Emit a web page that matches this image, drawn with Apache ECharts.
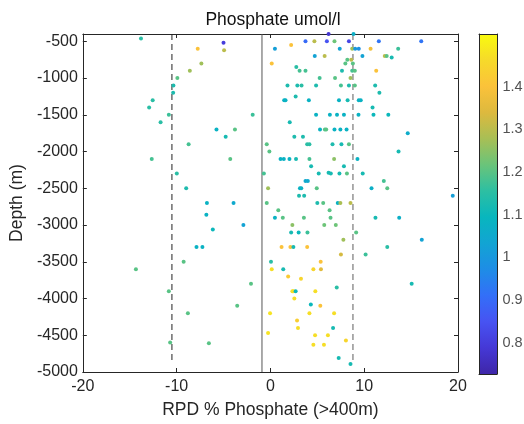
<!DOCTYPE html>
<html>
<head>
<meta charset="utf-8">
<script src="https://cdn.jsdelivr.net/npm/echarts@6/dist/echarts.min.js"></script>
<style>html,body{margin:0;padding:0;background:#fff}#c{width:524px;height:424px}</style>
</head>
<body>
<div id="c"></div>
<script>
// RPD (%) values
const rpd = [
-13.8,-5.0,-7.75,-4.94,-7.36,-8.59,-9.92,-10.34,-10.37,-12.55,-12.93,-10.83,-1.89,
6.2,8.86,3.74,4.69,6.02,6.83,8.37,11.56,16.08,2.21,0.48,7.39,8.72,9.04,9.42,10.68,13.62,
4.73,5.78,9.81,12.19,12.4,12.93,8.2,8.62,0.14,7.99,8.79,2.76,3.11,3.74,7.63,8.72,9.0,11.28,
5.25,6.89,8.54,1.82,2.87,3.32,4.87,7.52,8.37,9.0,11.17,11.62,2.69,1.47,1.61,4.1,7.31,8.23,9.42,9.63,10.89,
4.87,6.34,7.1,7.84,9.39,10.99,12.57,
-11.71,2.06,-5.75,-3.78,5.29,5.81,5.95,6.83,7.46,8.12,14.64,-4.77,2.55,3.47,
-8.72,-0.39,3.92,4.16,6.62,7.57,8.37,-0.11,13.66,
-12.65,-4.28,1.08,1.43,2.03,2.73,4.16,6.79,9.28,4.34,7.84,
-9.98,-0.7,5.15,6.2,6.44,7.36,8.16,9.84,3.74,3.99,12.09,
-8.98,-0.25,3.15,3.29,4.94,10.78,12.46,19.44,3.05,3.6,
-6.77,-3.93,-0.39,5.0,5.63,7.18,7.46,8.54,0.84,6.31,-6.83,
0.48,1.32,3.57,6.41,11.2,13.73,
-6.14,-2.88,2.34,5.74,6.97,2.21,3.01,3.95,9.14,7.78,16.14,
-7.88,-7.25,1.19,2.13,2.45,3.92,12.46,7.52,10.15,-9.25,0.06,5.36,
-14.34,0.14,1.37,4.58,5.39,1.89,3.26,-2.07,15.06,7.07,
-10.83,2.34,2.45,2.69,4.79,2.55,-3.54,5.32,4.31,
-8.8,-0.04,4.16,6.79,2.84,2.94,6.68,-0.25,4.76,6.13,8.05,
-10.69,-6.56,4.58,5.71,7.28,8.54
];
// Depth (m)
const depth = [
-460,-520,-600,-620,-800,-900,-1000,-1100,-1200,-1300,-1400,-1500,-1500,
-400,-400,-500,-500,-500,-500,-500,-500,-500,-550,-600,-600,-600,-600,-600,-600,-600,
-700,-700,-700,-700,-700,-720,-750,-750,-800,-800,-800,-850,-900,-900,-900,-900,-900,-900,
-1000,-1000,-1000,-1100,-1100,-1100,-1100,-1100,-1100,-1100,-1100,-1200,-1250,-1300,-1300,-1300,-1300,-1300,-1300,-1300,-1400,
-1500,-1500,-1500,-1500,-1500,-1500,-1500,
-1600,-1600,-1700,-1700,-1700,-1700,-1700,-1700,-1700,-1700,-1750,-1800,-1800,-1800,
-1900,-1900,-1900,-1900,-1900,-1900,-1900,-2000,-2000,
-2100,-2100,-2100,-2100,-2100,-2100,-2100,-2100,-2100,-2200,-2200,
-2300,-2300,-2300,-2290,-2300,-2300,-2300,-2300,-2400,-2400,-2400,
-2500,-2500,-2500,-2500,-2500,-2500,-2500,-2600,-2600,-2600,
-2700,-2700,-2700,-2700,-2700,-2700,-2700,-2700,-2800,-2800,-2860,
-2900,-2900,-2900,-2900,-2900,-2900,
-3060,-3000,-3000,-3000,-3000,-3100,-3100,-3100,-3100,-3200,-3200,
-3300,-3300,-3300,-3300,-3300,-3300,-3300,-3400,-3400,-3500,-3500,-3500,
-3600,-3600,-3600,-3600,-3600,-3700,-3730,-3800,-3800,-3850,
-3900,-3900,-3900,-3900,-3900,-4000,-4100,-4100,-4080,
-4200,-4200,-4200,-4200,-4300,-4400,-4400,-4470,-4500,-4500,-4570,
-4600,-4610,-4630,-4630,-4810,-4890
];
// Phosphate (umol/l)
const phosphate = [
1.15,0.80,1.40,1.30,1.27,1.27,1.20,1.13,1.13,1.15,1.15,1.17,1.17,
0.78,1.07,0.90,1.30,0.85,1.22,0.82,0.92,0.92,1.40,1.02,1.03,1.27,1.00,0.98,1.38,1.17,
1.03,1.30,1.03,1.30,1.20,1.12,1.20,1.30,1.40,1.20,1.20,1.15,1.18,1.18,1.13,1.18,1.20,1.40,
1.18,1.20,1.27,1.13,1.13,1.15,1.13,1.18,1.13,1.20,1.13,1.13,1.13,1.08,1.08,1.08,1.08,1.12,1.08,1.08,1.12,
1.08,1.08,1.08,1.08,1.08,1.10,1.10,
1.15,1.12,1.08,1.20,1.08,1.20,1.20,1.08,1.08,1.08,1.06,1.12,1.13,1.13,
1.18,1.20,1.15,1.15,1.13,1.12,1.20,1.20,1.12,
1.18,1.20,1.08,1.08,1.08,1.12,1.18,1.25,1.08,1.12,1.12,
1.15,1.18,1.12,1.12,1.12,1.12,1.20,1.12,1.05,1.05,1.18,
1.13,1.27,1.08,1.08,1.20,1.07,1.20,1.02,1.13,1.13,
1.08,1.05,1.20,1.13,1.20,1.08,1.28,1.30,1.20,1.20,1.08,
1.08,1.20,1.20,1.20,1.12,1.07,
1.10,1.03,1.25,1.22,1.22,1.12,1.10,1.17,1.20,1.27,1.03,
1.08,1.08,1.40,1.40,1.12,1.40,1.15,1.33,1.17,1.20,1.15,1.40,
1.20,1.47,1.12,1.45,1.35,1.42,1.45,1.20,1.12,1.15,
1.20,1.47,1.47,1.10,1.47,1.47,1.20,1.40,1.10,
1.20,1.48,1.47,1.47,1.43,1.47,1.12,1.48,1.47,1.47,1.45,
1.20,1.20,1.47,1.47,1.12,1.12
];
// reference lines (mean and +/- 2 sd of RPD)
const meanRPD = -0.9;
const lowRPD = -10.5;
const highRPD = 8.8;
const xTicks = [-20, -10, 0, 10, 20];
const yTicks = [-5000, -4500, -4000, -3500, -3000, -2500, -2000, -1500, -1000, -500];
const cbTicks = [0.8, 0.9, 1.0, 1.1, 1.2, 1.3, 1.4];
const cMin = 0.727, cMax = 1.523;
const yMin = -5000, yMax = -400;

const parula = ['#3E26A8','#4538D6','#4753F2','#336FF8','#1E8DE6','#12A4D3','#08B6BE','#2DBFA2','#6AC47A','#A8BF55','#DDB93E','#FBC23A','#F6DA2A','#F9FB0E'];

const pts = rpd.map((x, i) => [x, depth[i], phosphate[i]]);
const depthTop = Math.max(...depth), depthBot = Math.min(...depth);
const cbLabelPts = cbTicks.map(v => ['c', v]);

const txt = '#262626';
const font = 'Liberation Sans, Arial, Helvetica, sans-serif';

const chart = echarts.init(document.getElementById('c'));
const stops = parula.map((c, i) => ({offset: i / (parula.length - 1), color: c}));

chart.setOption({
  animation: false,
  backgroundColor: '#fff',
  title: {
    text: 'Phosphate umol/l', left: 268, top: 6, textAlign: 'center',
    textStyle: {fontFamily: font, fontSize: 17.5, fontWeight: 'normal', color: '#111'}
  },
  grid: [
    {left: 77, right: 66, top: 34, bottom: 50},
    {left: 479, width: 18, top: 34, bottom: 50}
  ],
  xAxis: [
    {gridIndex: 0, type: 'value', min: -20, max: 20, interval: 10, position: 'bottom',
     name: 'RPD % Phosphate (>400m)', nameLocation: 'middle', nameGap: 29,
     nameTextStyle: {fontSize: 17.5, color: txt, fontFamily: font},
     axisLine: {onZero: false, lineStyle: {color: txt}},
     axisTick: {inside: true, length: 4, lineStyle: {color: txt}},
     axisLabel: {fontSize: 16, color: txt, margin: 7, fontFamily: font},
     splitLine: {show: false}},
    {gridIndex: 0, type: 'value', min: -20, max: 20, interval: 10, position: 'top',
     axisLine: {onZero: false, lineStyle: {color: txt}},
     axisTick: {inside: true, length: 4, lineStyle: {color: txt}},
     axisLabel: {show: false}, splitLine: {show: false}},
    {gridIndex: 1, type: 'category', data: ['c'], position: 'bottom', z: 5,
     axisLine: {lineStyle: {color: txt}}, axisTick: {show: false}, axisLabel: {show: false}},
    {gridIndex: 1, type: 'category', data: ['c'], position: 'top', z: 5,
     axisLine: {lineStyle: {color: txt}}, axisTick: {show: false}, axisLabel: {show: false}}
  ],
  yAxis: [
    {gridIndex: 0, type: 'value', min: yMin, max: yMax, position: 'left',
     name: 'Depth (m)', nameLocation: 'middle', nameGap: 48, nameRotate: 90,
     nameTextStyle: {fontSize: 17.5, color: txt, fontFamily: font},
     axisLine: {onZero: false, lineStyle: {color: txt}},
     axisTick: {inside: true, length: 4, lineStyle: {color: txt}, customValues: yTicks},
     axisLabel: {fontSize: 16, color: txt, margin: 5, fontFamily: font, customValues: yTicks,
       formatter: v => String(v)},
     splitLine: {show: false}},
    {gridIndex: 0, type: 'value', min: yMin, max: yMax, position: 'right',
     axisLine: {onZero: false, lineStyle: {color: txt}},
     axisTick: {inside: true, length: 4, lineStyle: {color: txt}, customValues: yTicks},
     axisLabel: {show: false}, splitLine: {show: false}},
    {gridIndex: 1, type: 'value', min: cMin, max: cMax, position: 'right', z: 5,
     axisLine: {show: true, lineStyle: {color: txt}},
     axisTick: {inside: true, length: 3, lineStyle: {color: txt}, customValues: cbTicks},
     axisLabel: {show: false},
     splitLine: {show: false}},
    {gridIndex: 1, type: 'value', min: cMin, max: cMax, position: 'left', z: 5,
     axisLine: {show: true, lineStyle: {color: txt}},
     axisTick: {show: false}, axisLabel: {show: false}, splitLine: {show: false}}
  ],
  visualMap: {
    show: false, type: 'continuous', min: cMin, max: cMax, dimension: 2, seriesIndex: 0,
    inRange: {color: parula}
  },
  series: [
    {type: 'scatter', xAxisIndex: 0, yAxisIndex: 0, data: pts, symbolSize: 4, clip: false, z: 3,
     itemStyle: {opacity: 1}},
    {type: 'line', xAxisIndex: 0, yAxisIndex: 0, data: [[meanRPD, yMin], [meanRPD, yMax]],
     symbol: 'none', lineStyle: {color: '#555', width: 1}, z: 2},
    {type: 'line', xAxisIndex: 0, yAxisIndex: 0, data: [[lowRPD, depthTop], [lowRPD, depthBot]],
     symbol: 'none', lineStyle: {color: '#222', width: 1, type: [6, 4]}, z: 2},
    {type: 'line', xAxisIndex: 0, yAxisIndex: 0, data: [[highRPD, depthTop], [highRPD, depthBot]],
     symbol: 'none', lineStyle: {color: '#777', width: 1.2, type: [6, 4]}, z: 2},
    {type: 'bar', xAxisIndex: 2, yAxisIndex: 2, stack: 'cb', data: [cMin], barWidth: '100%',
     itemStyle: {color: 'rgba(0,0,0,0)'}, silent: true},
    {type: 'bar', xAxisIndex: 2, yAxisIndex: 2, stack: 'cb', data: [cMax - cMin], barWidth: '100%',
     itemStyle: {color: new echarts.graphic.LinearGradient(0, 1, 0, 0, stops)}, silent: true},
    {type: 'scatter', xAxisIndex: 2, yAxisIndex: 2, data: cbLabelPts, symbol: 'circle', symbolSize: 1,
     clip: false, silent: true, z: 6, itemStyle: {color: 'rgba(0,0,0,0)'},
     label: {show: true, position: 'right', distance: 14, fontSize: 14.5, color: txt, fontFamily: font,
       formatter: p => String(p.value[1])},
     labelLayout: {hideOverlap: false}}
  ]
});
</script>
</body>
</html>
